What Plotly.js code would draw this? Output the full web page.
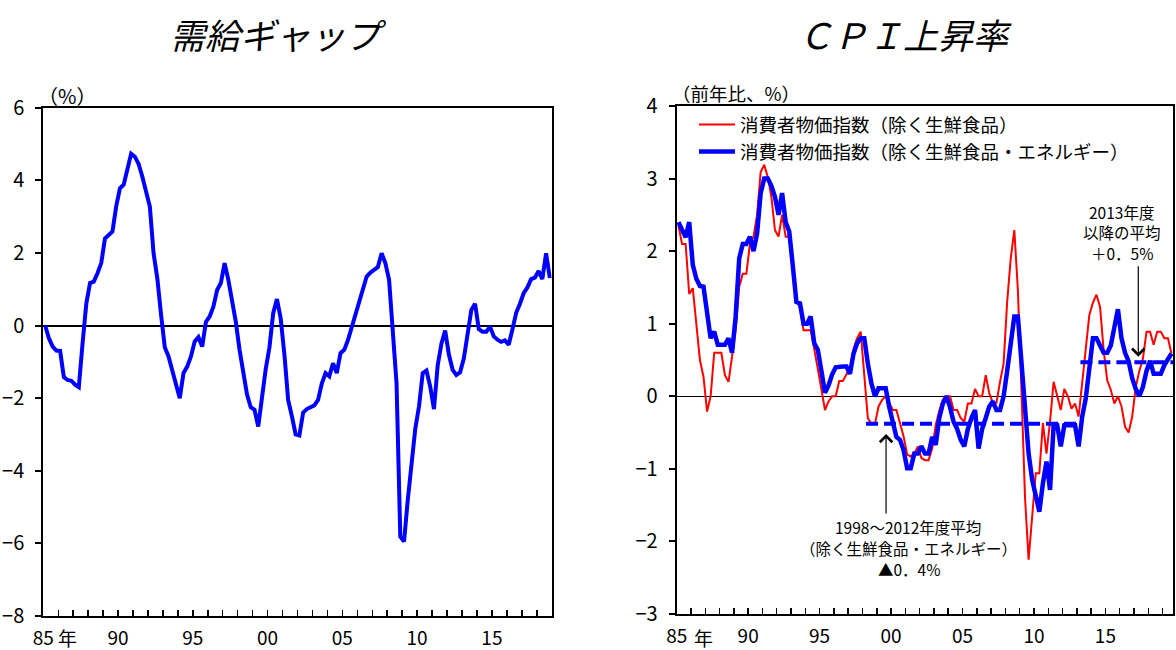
<!DOCTYPE html>
<html><head><meta charset="utf-8">
<script src="https://cdn.plot.ly/plotly-3.0.1.min.js"></script>
<style>html,body{margin:0;padding:0;background:#fff}#chart{width:1176px;height:650px}</style>
</head><body><div id="chart"></div>
<script>
// ---- Data (quarterly) ----
const gapStart = 1985;      // 1985Q1
const gapValues = [0,-0.35,-0.58,-0.69,-0.7,-1.42,-1.5,-1.52,-1.63,-1.7,
 -0.5,0.6,1.17,1.21,1.44,1.72,2.4,2.5,2.59,3.28,
 3.78,3.88,4.3,4.73,4.65,4.45,4.1,3.65,3.28,1.99,
 1.3,0.3,-0.6,-0.85,-1.22,-1.59,-2.0,-1.31,-1.13,-0.85,
 -0.44,-0.32,-0.58,0.1,0.25,0.52,0.98,1.17,1.72,1.26,
 0.71,0.1,-0.67,-1.3,-1.9,-2.25,-2.32,-2.78,-1.96,-1.2,
 -0.6,0.34,0.73,0.2,-0.8,-2.05,-2.5,-3.0,-3.03,-2.4,
 -2.3,-2.25,-2.2,-2.05,-1.6,-1.31,-1.4,-1.04,-1.31,-0.76,
 -0.67,-0.4,-0.05,0.3,0.6,0.98,1.35,1.46,1.52,1.61,
 1.99,1.72,1.26,-0.1,-1.6,-5.81,-5.95,-4.8,-3.7,-2.85,
 -2.23,-1.31,-1.24,-1.68,-2.3,-1.1,-0.5,-0.14,-0.8,-1.22,
 -1.36,-1.29,-0.9,-0.3,0.43,0.6,-0.1,-0.17,-0.17,-0.03,
 -0.3,-0.39,-0.45,-0.41,-0.53,-0.1,0.35,0.6,0.89,1.05,
 1.28,1.32,1.5,1.28,1.99,1.31];

const cpiStart = 1985;      // 1985Q1
const cpiCore = [2.35,2.1,2.1,1.41,1.49,1.0,0.5,0.27,-0.21,0.0,
 0.6,0.6,0.6,0.29,0.2,0.55,0.91,1.51,1.69,1.69,
 2.1,2.2,2.5,3.09,3.19,3.02,2.75,2.29,2.2,2.5,
 2.2,2.2,1.75,1.3,1.23,0.91,0.91,0.91,0.65,0.4,
 0.1,-0.19,-0.07,0.0,0.0,0.21,0.21,0.3,0.39,0.65,
 0.8,0.89,0.3,-0.3,-0.38,-0.38,-0.14,-0.05,0.0,-0.1,
 -0.19,-0.19,-0.37,-0.55,-0.8,-0.83,-0.79,-0.69,-0.85,-0.88,
 -0.88,-0.72,-0.4,-0.2,-0.05,0.0,0.0,-0.19,-0.19,-0.3,
 -0.35,-0.1,-0.1,0.1,0.0,0.0,0.29,0.04,-0.09,-0.09,
 0.2,0.45,1.3,1.9,2.29,1.46,0.09,-1.4,-2.25,-1.66,
 -1.06,-1.06,-0.37,-0.79,-0.35,0.2,0.0,-0.19,0.1,0.0,
 -0.17,-0.1,-0.28,0.18,0.73,1.12,1.29,1.4,1.23,0.64,
 0.22,0.09,-0.1,0.0,-0.14,-0.42,-0.5,-0.28,0.13,0.35,
 0.52,0.89,0.89,0.71,0.89,0.89,0.8,0.8,0.59];
const cpiCoreCore = [2.4,2.3,2.19,2.4,1.81,1.62,1.52,1.51,1.15,0.8,
 0.89,0.71,0.71,0.71,0.8,0.6,1.1,1.9,2.1,2.1,
 2.2,2.0,2.24,2.8,3.0,3.0,2.9,2.75,2.5,2.8,
 2.4,2.27,1.8,1.3,1.28,1.0,1.0,1.1,0.73,0.64,
 0.35,0.05,0.15,0.3,0.4,0.41,0.41,0.41,0.31,0.59,
 0.73,0.8,0.8,0.45,0.18,0.0,0.11,0.11,0.11,-0.15,
 -0.35,-0.56,-0.6,-0.74,-0.99,-0.99,-0.79,-0.79,-0.69,-0.79,
 -0.79,-0.56,-0.67,-0.3,-0.1,0.0,-0.15,-0.35,-0.45,-0.6,
 -0.69,-0.45,-0.3,-0.19,-0.72,-0.45,-0.3,-0.14,-0.07,-0.19,
 -0.19,0.0,0.35,0.7,1.1,1.1,0.45,-0.23,-0.79,-1.15,
 -1.4,-1.59,-1.2,-0.9,-1.29,-0.4,-0.4,-0.69,-0.4,-0.4,
 -0.4,-0.4,-0.69,-0.28,-0.03,0.45,0.8,0.8,0.7,0.6,
 0.6,0.7,0.95,1.2,0.8,0.6,0.48,0.25,0.1,0.0,
 0.13,0.35,0.49,0.31,0.31,0.31,0.43,0.52,0.59];

// period averages of the core-core CPI (fiscal years)
const avgPeriods = [[1998.25, 2013.25], [2013.25, 2019.75]];
const avgValues = [-0.38, 0.47];

const legendNames = ['消費者物価指数（除く生鮮食品）', '消費者物価指数（除く生鮮食品・エネルギー）'];
const tickYears = []; for (let y = 1985; y <= 2019; y++) tickYears.push(y);
const tickText = tickYears.map(y => (y % 5 === 0) ? String(y % 100).padStart(2, '0') : '');

// quarter midpoints
const xGap = gapValues.map((_, i) => gapStart + 0.125 + i / 4);
const xCpi = cpiCore.map((_, i) => cpiStart + 0.125 + i / 4);

const BLUE = '#0000ff', RED = '#ff0000';
const FONT = '"Noto Sans CJK JP", "Noto Sans", sans-serif';

const traces = [
  {x: xGap, y: gapValues, xaxis: 'x', yaxis: 'y', mode: 'lines', line: {color: BLUE, width: 4}, showlegend: false},
  {x: xCpi, y: cpiCore, xaxis: 'x2', yaxis: 'y2', mode: 'lines', line: {color: RED, width: 2}, name: legendNames[0]},
  {x: xCpi, y: cpiCoreCore, xaxis: 'x2', yaxis: 'y2', mode: 'lines', line: {color: BLUE, width: 4.5}, name: legendNames[1]},
];
avgPeriods.forEach((p, i) => traces.push({
  x: p, y: [avgValues[i], avgValues[i]], xaxis: 'x2', yaxis: 'y2', mode: 'lines',
  line: {color: BLUE, width: 4, dash: '12px,6px'}, showlegend: false
}));

const W = 1176, H = 650;
const px = v => v / W, py = v => 1 - v / H;

const xCommon = {
  tickmode: 'array', tickvals: tickYears, ticktext: tickText,
  ticks: 'inside', ticklen: 6, tickwidth: 1.5, tickcolor: '#000',
  showline: true, linecolor: '#000', linewidth: 2, mirror: true,
  showgrid: false, zeroline: false, tickfont: {size: 19, family: FONT, color: '#000'},
  ticklabelstandoff: 4, fixedrange: true
};
const yCommon = {
  ticks: 'outside', ticklen: 6, tickwidth: 2, tickcolor: '#000',
  showline: true, linecolor: '#000', linewidth: 2, mirror: true,
  showgrid: false, zeroline: true, zerolinecolor: '#000',
  tickfont: {size: 20, family: FONT, color: '#000'}, ticklabelstandoff: 7, fixedrange: true
};

const layout = {
  width: W, height: H, margin: {l: 0, r: 0, t: 0, b: 0},
  paper_bgcolor: '#fff', plot_bgcolor: '#fff',
  font: {family: FONT, color: '#000'},
  xaxis: Object.assign({}, xCommon, {domain: [px(43.3), px(551.7)], range: [1985, 2019], anchor: 'y'}),
  yaxis: Object.assign({}, yCommon, {domain: [py(616), py(107.7)], range: [-8, 6], dtick: 2, tick0: 0, zerolinewidth: 2, anchor: 'x'}),
  xaxis2: Object.assign({}, xCommon, {domain: [px(676.7), px(1173.3)], range: [1985, 2019.75], anchor: 'y2'}),
  yaxis2: Object.assign({}, yCommon, {domain: [py(614), py(106)], range: [-3, 4], dtick: 1, tick0: 0, zerolinewidth: 1.5, anchor: 'x2'}),
  showlegend: true,
  legend: {x: px(694), y: py(106), xanchor: 'left', yanchor: 'top', bgcolor: 'rgba(0,0,0,0)', borderwidth: 0,
           font: {size: 18.5, family: FONT, color: '#000'}, traceorder: 'normal', itemwidth: 36},
  annotations: [
    {text: '需給ギャップ', xref: 'paper', yref: 'paper', x: px(278), y: py(33), showarrow: false,
     font: {size: 35, family: FONT, style: 'italic'}, xanchor: 'center', yanchor: 'middle'},
    {text: 'ＣＰＩ上昇率', xref: 'paper', yref: 'paper', x: px(905), y: py(33), showarrow: false,
     font: {size: 35, family: FONT, style: 'italic'}, xanchor: 'center', yanchor: 'middle'},
    {text: '（%）', xref: 'paper', yref: 'paper', x: px(36), y: py(95), showarrow: false,
     font: {size: 20}, xanchor: 'left', yanchor: 'middle'},
    {text: '（前年比、%）', xref: 'paper', yref: 'paper', x: px(670), y: py(93), showarrow: false,
     font: {size: 18.5}, xanchor: 'left', yanchor: 'middle'},
    {text: '年', xref: 'paper', yref: 'paper', x: px(67), y: py(637), showarrow: false,
     font: {size: 19}, xanchor: 'center', yanchor: 'middle'},
    {text: '年', xref: 'paper', yref: 'paper', x: px(703), y: py(637), showarrow: false,
     font: {size: 19}, xanchor: 'center', yanchor: 'middle'},
    // arrows
    {text: '', xref: 'x2', yref: 'y2', x: 1999.65, y: -0.52, showarrow: true, ax: 0, ay: 81,
     arrowhead: 4, arrowsize: 2.0, arrowwidth: 1.2, arrowcolor: '#000', standoff: 0},
    {text: '', xref: 'x2', yref: 'y2', x: 2017.3, y: 0.545, showarrow: true, ax: 0, ay: -92,
     arrowhead: 4, arrowsize: 2.0, arrowwidth: 1.2, arrowcolor: '#000', standoff: 0},
    // notes
    {text: '1998～2012年度平均', xref: 'paper', yref: 'paper', x: px(908), y: py(527), showarrow: false, font: {size: 15.5}, xanchor: 'center', yanchor: 'middle'},
    {text: '（除く生鮮食品・エネルギー）', xref: 'paper', yref: 'paper', x: px(908), y: py(548), showarrow: false, font: {size: 15.5}, xanchor: 'center', yanchor: 'middle'},
    {text: '▲0．4%', xref: 'paper', yref: 'paper', x: px(909), y: py(569), showarrow: false, font: {size: 15.5}, xanchor: 'center', yanchor: 'middle'},
    {text: '2013年度', xref: 'paper', yref: 'paper', x: px(1121.5), y: py(211.5), showarrow: false, font: {size: 15.5}, xanchor: 'center', yanchor: 'middle'},
    {text: '以降の平均', xref: 'paper', yref: 'paper', x: px(1121.5), y: py(232), showarrow: false, font: {size: 15.5}, xanchor: 'center', yanchor: 'middle'},
    {text: '＋0．5%', xref: 'paper', yref: 'paper', x: px(1122), y: py(253), showarrow: false, font: {size: 15.5}, xanchor: 'center', yanchor: 'middle'}
  ]
};

Plotly.newPlot('chart', traces, layout, {displayModeBar: false, staticPlot: true});
</script></body></html>
